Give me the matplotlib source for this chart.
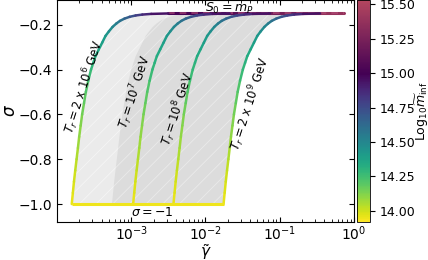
import numpy as np
import matplotlib
matplotlib.use('Agg')
import matplotlib.pyplot as plt
from matplotlib.collections import LineCollection
from matplotlib.colors import ListedColormap, Normalize, to_rgba
from matplotlib.cm import ScalarMappable

# shared curve shape: sigma vs log10 offset from the curve start
sigma_grid = [-1.0, -0.95, -0.9, -0.85, -0.8, -0.75, -0.7, -0.65, -0.6, -0.55,
              -0.5, -0.45, -0.4, -0.37, -0.34, -0.31, -0.28, -0.25, -0.23, -0.21,
              -0.195, -0.183, -0.173, -0.165, -0.159, -0.155, -0.152, -0.15]
dlog_shape = [0.0, 0.015, 0.03, 0.047, 0.065, 0.083, 0.10, 0.12, 0.14, 0.165,
              0.19, 0.222, 0.26, 0.29, 0.32, 0.365, 0.41, 0.455, 0.50, 0.55,
              0.60, 0.65, 0.71, 0.78, 0.86, 0.95, 1.07, 1.3]
logm_shape = [13.95, 13.97, 13.99, 14.01, 14.04, 14.065, 14.09, 14.115, 14.14, 14.17,
              14.20, 14.24, 14.28, 14.30, 14.33, 14.355, 14.38, 14.42, 14.45, 14.49,
              14.53, 14.58, 14.63, 14.69, 14.76, 14.83, 14.91, 14.98]

# starting gamma (at sigma = -1) of each reheating temperature curve
curve_start = [1.58e-4, 1.06e-3, 3.7e-3, 1.75e-2]
curve_labels = [r'$T_r = 2$ x $10^6$ GeV', r'$T_r = 10^7$ GeV',
                r'$T_r = 10^8$ GeV', r'$T_r = 2$ x $10^9$ GeV']
band_start = 5.5e-4  # left edge of the darker band

# S0 = m_P plateau
plateau_sigma = -0.15
plateau_gamma = [3.2e-3, 1e-2, 5e-2, 2e-1, 7.3e-1]
plateau_logm = [14.98, 15.05, 15.15, 15.30, 15.45]

cb_ticks = [14.00, 14.25, 14.50, 14.75, 15.00, 15.25, 15.50]
vmin, vmax = 13.92, 15.53

# colour map: viridis_r up to 15.0, then purple -> rose
n_low = int(256 * (15.0 - vmin) / (vmax - vmin))
low = plt.get_cmap('viridis_r')(np.linspace(0, 1, n_low))
c0, c1 = np.array(to_rgba('#440154')), np.array(to_rgba('#b4465f'))
t = np.linspace(0, 1, 256 - n_low)[:, None]
high = c0 * (1 - t) + c1 * t
cmap = ListedColormap(np.vstack([low, high]))
norm = Normalize(vmin, vmax)

plt.rcParams['hatch.linewidth'] = 0.6

fig = plt.figure(figsize=(4.28, 2.6), dpi=100)
ax = fig.add_axes([57 / 428, 38 / 260, 297 / 428, 222 / 260])

sig = np.array(sigma_grid)
dl = np.array(dlog_shape)
lm = np.array(logm_shape)


def curve_x(g0):
    return g0 * 10 ** dl


# shaded regions
ax.fill_betweenx(sig, curve_x(curve_start[0]), curve_x(curve_start[-1]),
                 facecolor='#ebebeb', edgecolor=(1, 1, 1, 0.5), hatch='//', linewidth=0, zorder=1)
ax.fill_betweenx(sig, curve_x(band_start), curve_x(curve_start[-1]),
                 facecolor='#dcdcdc', edgecolor=(1, 1, 1, 0.4), hatch='//', linewidth=0, zorder=1)


def colored_line(x, y, c, lw=1.8, z=3):
    segs = [[(x[i], y[i]), (x[i + 1], y[i + 1])] for i in range(len(x) - 1)]
    cc = 0.5 * (np.array(c[:-1]) + np.array(c[1:]))
    lc = LineCollection(segs, colors=cmap(norm(cc)), linewidths=lw, zorder=z, capstyle='round')
    ax.add_collection(lc)


# plateau line and dashed S0 = m_P
pg = [curve_x(curve_start[0])[-1]] + plateau_gamma[1:]
colored_line(np.array(pg), np.full(len(pg), plateau_sigma), plateau_logm, lw=2.2, z=2)
ax.plot([pg[0], pg[-1]], [plateau_sigma, plateau_sigma], ls=(0, (4, 3)),
        color='#b4507a', lw=1.2, alpha=0.7, zorder=2.5)

# curves
for g0 in curve_start:
    colored_line(curve_x(g0), sig, lm)

# sigma = -1 line
ax.plot([curve_start[0], curve_start[-1]], [-1, -1], color=cmap(norm(13.95)), lw=2.2, zorder=3,
        solid_capstyle='butt')

# annotations
label_pos = [(2.3e-4, -0.475), (1.13e-3, -0.502), (4.3e-3, -0.578), (3.95e-2, -0.551)]
for (lx, ly), txt in zip(label_pos, curve_labels):
    ax.text(lx, ly, txt, rotation=72, fontsize=8.5, ha='center', va='center', zorder=4)
ax.text(1.0e-2, -0.127, r'$S_0 = m_P$', fontsize=9, ha='left', va='center')
ax.text(9.8e-4, -1.036, r'$\sigma = -1$', fontsize=9, ha='left', va='center')

ax.set_xscale('log')
ax.set_xlim(1e-4, 1)
ax.set_ylim(-1.08, -0.09)
ax.set_yticks([-1.0, -0.8, -0.6, -0.4, -0.2])
ax.set_xticks([1e-3, 1e-2, 1e-1, 1])
ax.tick_params(which='both', direction='in', top=True, right=True, labelsize=10)
ax.tick_params(axis='x', pad=2)
ax.set_xlabel(r'$\tilde{\gamma}$', fontsize=11, labelpad=-1)
ax.set_ylabel(r'$\sigma$', fontsize=12, labelpad=0)

cax = fig.add_axes([357 / 428, 38 / 260, 13 / 428, 222 / 260])
cb = fig.colorbar(ScalarMappable(norm=norm, cmap=cmap), cax=cax, ticks=cb_ticks, format='%.2f')
cb.ax.tick_params(labelsize=9)
cb.outline.set_linewidth(0.6)
cb.set_label(r'Log$_{10}\widetilde{m}_{\rm inf}$', fontsize=9, labelpad=-1)

fig.savefig('out.png', dpi=100)
